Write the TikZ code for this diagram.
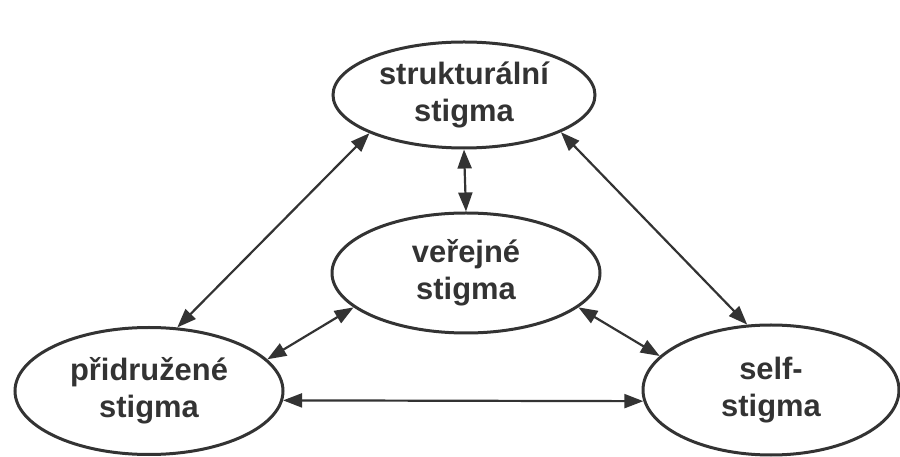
\documentclass[tikz,border=0pt]{standalone}
\usepackage{fontspec}
\setmainfont{Liberation Sans}
\usetikzlibrary{shapes,arrows.meta}
\colorlet{ink}{black!80}
\tikzset{%
  bubble/.style = {draw, ellipse, line width=3bp, inner sep=0pt, align=center,
    font=\bfseries\fontsize{31}{37}\selectfont}, % Stigma type
  link/.style   = {{Triangle[length=19bp,width=14bp]}-{Triangle[length=19bp,width=14bp]},
    line width=2.2bp} % Two-way link
}

\begin{document}
\begin{tikzpicture}[x=1bp, y=-1bp, color=ink]
        \useasboundingbox (0,0) rectangle (900,457);
        \draw
            node [bubble, minimum width=262bp, minimum height=106bp] (strukt) at (464,95) {strukturální\\stigma}
            node [bubble, minimum width=268bp, minimum height=120bp] (verej) at (466,273) {veřejné\\stigma}
            node [bubble, minimum width=268bp, minimum height=127bp] (pridr) at (149,391) {přidružené\\stigma}
            node [bubble, minimum width=256bp, minimum height=130bp] (selfst) at (771,390) {self-\\stigma};

            \draw[link] (strukt.270) -- (verej.90);
            \draw[link] (strukt.202) -- (pridr.66);
            \draw[link] (strukt.339) -- (selfst.110);
            \draw[link] (verej.197) -- (pridr.15);
            \draw[link] (verej.343) -- (selfst.163);
            \draw[link] (pridr.-4) -- (selfst.185);
        \end{tikzpicture}
\end{document}
